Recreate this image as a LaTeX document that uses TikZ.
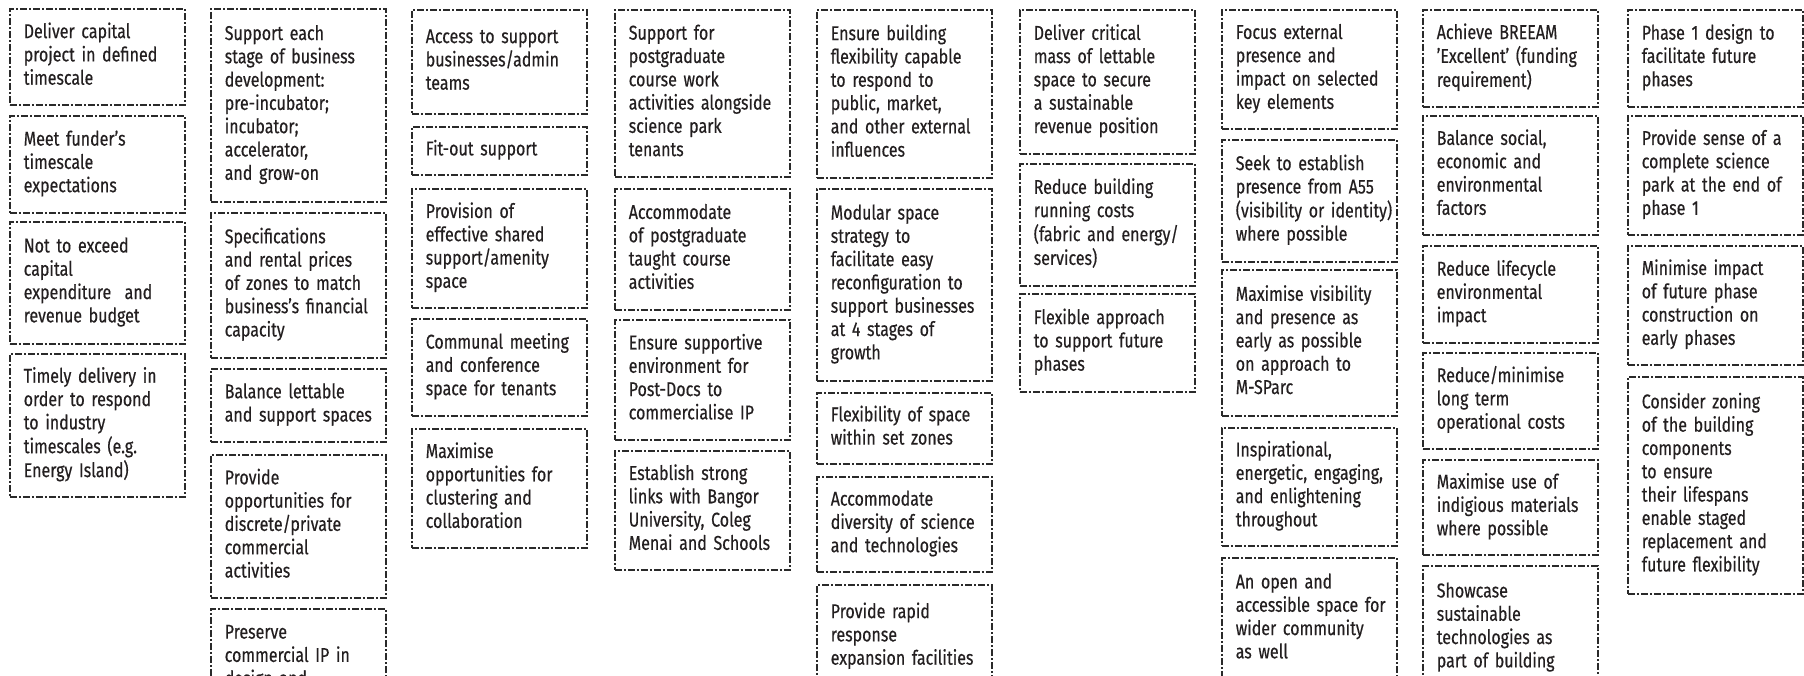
\documentclass[tikz,border=0pt]{standalone}
\usepackage{fontspec}
\setmainfont[FakeStretch=0.8,FakeBold=0.4]{Fira Sans}
\definecolor{ink}{HTML}{231F20}
\definecolor{edge}{HTML}{2A2A2A}
\newcommand\gl[1]{\begin{tabular}{@{}l@{}}#1\end{tabular}}
\begin{document}
\begin{tikzpicture}[x=1pt,y=-1pt,
  goalbox/.style={draw=edge, line width=1.5pt,
    dash pattern=on 7pt off 2pt on 2pt off 2pt,
    anchor=north west, align=left, text width=147pt,
    inner xsep=14pt, inner ysep=0pt, minimum width=175pt,
    text=ink, font=\fontsize{20}{23.3}\selectfont}]
\useasboundingbox (0,0) rectangle (1804,675);
\clip (0,0) rectangle (1804,675);
\fill[white] (0,0) rectangle (1804,675);
% column 1
\node[goalbox, minimum height=96pt]  (c1a) at (9,8)   {\gl{Deliver capital\\project in defined\\timescale}};
\node[goalbox, minimum height=97pt]  (c1b) at (9,115) {\gl{Meet funder’s\\timescale\\expectations}};
\node[goalbox, minimum height=122pt] (c1c) at (9,221) {\gl{Not to exceed\\capital\\expenditure~ and\\revenue budget}};
\node[goalbox, minimum height=143pt] (c1d) at (9,353) {\gl{Timely delivery in\\order to respond\\to industry\\timescales (e.g.\\Energy Island)}};
% column 2
\node[goalbox, minimum height=193pt] (c2a) at (210,8)   {\gl{Support each\\stage of business\\development:\\pre-incubator;\\incubator;\\accelerator,\\and grow-on}};
\node[goalbox, minimum height=145pt] (c2b) at (210,212) {\gl{Specifications\\and rental prices\\of zones to match\\business’s financial\\capacity}};
\node[goalbox, minimum height=73pt]  (c2c) at (210,368) {\gl{Balance lettable\\and support spaces}};
\node[goalbox, minimum height=143pt] (c2d) at (210,454) {\gl{Provide\\opportunities for\\discrete/private\\commercial\\activities}};
\node[goalbox, minimum height=97pt]  (c2e) at (210,608) {\gl{Preserve\\commercial IP in\\design and}};
% column 3
\node[goalbox, minimum height=104pt] (c3a) at (411,9)   {\gl{Access to support\\businesses/admin\\teams}};
\node[goalbox, minimum height=48pt]  (c3b) at (411,126) {\gl{Fit-out support}};
\node[goalbox, minimum height=119pt] (c3c) at (411,188) {\gl{Provision of\\effective shared\\support/amenity\\space}};
\node[goalbox, minimum height=97pt]  (c3d) at (411,318) {\gl{Communal meeting\\and conference\\space for tenants}};
\node[goalbox, minimum height=119pt] (c3e) at (411,428) {\gl{Maximise\\opportunities for\\clustering and\\collaboration}};
% column 4
\node[goalbox, minimum height=167pt] (c4a) at (614,9)   {\gl{Support for\\postgraduate\\course work\\activities alongside\\science park\\tenants}};
\node[goalbox, minimum height=121pt] (c4b) at (614,188) {\gl{Accommodate\\of postgraduate\\taught course\\activities}};
\node[goalbox, minimum height=120pt] (c4c) at (614,319) {\gl{Ensure supportive\\environment for\\Post-Docs to\\commercialise IP}};
\node[goalbox, minimum height=119pt] (c4d) at (614,450) {\gl{Establish strong\\links with Bangor\\University, Coleg\\Menai and Schools}};
% column 5
\node[goalbox, minimum height=168pt] (c5a) at (816,9)   {\gl{Ensure building\\flexibility capable\\to respond to\\public, market,\\and other external\\influences}};
\node[goalbox, minimum height=192pt] (c5b) at (816,188) {\gl{Modular space\\strategy to\\facilitate easy\\reconfiguration to\\support businesses\\at 4 stages of\\growth}};
\node[goalbox, minimum height=71pt]  (c5c) at (816,392) {\gl{Flexibility of space\\within set zones}};
\node[goalbox, minimum height=95pt]  (c5d) at (816,476) {\gl{Accommodate\\diversity of science\\and technologies}};
\node[goalbox, minimum height=104pt] (c5e) at (816,584) {\gl{Provide rapid\\response\\expansion facilities}};
% column 6
\node[goalbox, minimum height=144pt] (c6a) at (1019,9)   {\gl{Deliver critical\\mass of lettable\\space to secure\\a sustainable\\revenue position}};
\node[goalbox, minimum height=122pt] (c6b) at (1019,163) {\gl{Reduce building\\running costs\\(fabric and energy/\\services)}};
\node[goalbox, minimum height=98pt]  (c6c) at (1019,293) {\gl{Flexible approach\\to support future\\phases}};
% column 7
\node[goalbox, minimum height=119pt] (c7a) at (1221,9)   {\gl{Focus external\\presence and\\impact on selected\\key elements}};
\node[goalbox, minimum height=122pt] (c7b) at (1221,139) {\gl{Seek to establish\\presence from A55\\(visibility or identity)\\where possible}};
\node[goalbox, minimum height=146pt] (c7c) at (1221,269) {\gl{Maximise visibility\\and presence as\\early as possible\\on approach to\\M-SParc}};
\node[goalbox, minimum height=118pt] (c7d) at (1221,427) {\gl{Inspirational,\\energetic, engaging,\\and enlightening\\throughout}};
\node[goalbox, minimum height=122pt] (c7e) at (1221,557) {\gl{An open and\\accessible space for\\wider community\\as well}};
% column 8
\node[goalbox, minimum height=97pt]  (c8a) at (1422,9)   {\gl{Achieve BREEAM\\’Excellent’ (funding\\requirement)}};
\node[goalbox, minimum height=119pt] (c8b) at (1422,115) {\gl{Balance social,\\economic and\\environmental\\factors}};
\node[goalbox, minimum height=97pt]  (c8c) at (1422,245) {\gl{Reduce lifecycle\\environmental\\impact}};
\node[goalbox, minimum height=96pt]  (c8d) at (1422,352) {\gl{Reduce/minimise\\long term\\operational costs}};
\node[goalbox, minimum height=95pt]  (c8e) at (1422,459) {\gl{Maximise use of\\indigious materials\\where possible}};
\node[goalbox, minimum height=124pt] (c8f) at (1422,565) {\gl{Showcase\\sustainable\\technologies as\\part of building}};
% column 9
\node[goalbox, minimum height=97pt]  (c9a) at (1627,9)   {\gl{Phase 1 design to\\facilitate future\\phases}};
\node[goalbox, minimum height=119pt] (c9b) at (1627,115) {\gl{Provide sense of a\\complete science\\park at the end of\\phase 1}};
\node[goalbox, minimum height=119pt] (c9c) at (1627,245) {\gl{Minimise impact\\of future phase\\construction on\\early phases}};
\node[goalbox, minimum height=217pt] (c9d) at (1627,376) {\gl{Consider zoning\\of the building\\components\\to ensure\\their lifespans\\enable staged\\replacement and\\future flexibility}};
\end{tikzpicture}
\end{document}
